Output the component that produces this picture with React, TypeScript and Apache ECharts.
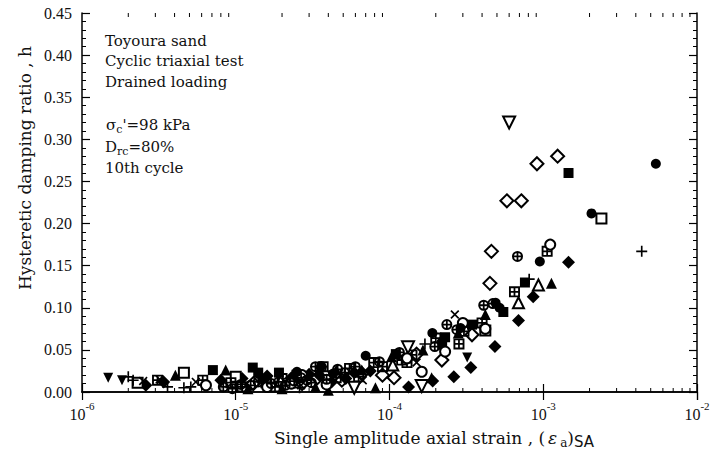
import React, { useEffect, useRef } from "react";
import * as echarts from "echarts";

// ---- data: [single amplitude axial strain, hysteretic damping ratio h] ----
const filledCircle = [
  [5.4e-3, 0.271], [2.06e-3, 0.212], [9.5e-4, 0.155], [5.2e-4, 0.1], [4.9e-4, 0.106],
  [2.9e-4, 0.076], [2.2e-4, 0.06], [1.9e-4, 0.07], [7.0e-5, 0.043], [3.6e-5, 0.031],
  [4.3e-5, 0.022], [2.5e-5, 0.024], [1.5e-5, 0.016],
];
const openCircle = [
  [1.11e-3, 0.175], [4.2e-4, 0.075], [3.0e-4, 0.082], [2.3e-4, 0.048], [1.62e-4, 0.024],
  [1.3e-4, 0.04], [3.9e-5, 0.009], [2.7e-5, 0.02], [2.3e-5, 0.01], [1.6e-5, 0.006],
  [6.4e-6, 0.008],
];
const crossCircle = [
  [6.8e-4, 0.161], [4.7e-4, 0.105], [4.1e-4, 0.103], [2.74e-4, 0.074], [2.36e-4, 0.08],
  [1.97e-4, 0.054], [1.16e-4, 0.047], [8.6e-5, 0.036], [6.0e-5, 0.03], [5.1e-5, 0.023],
  [4.6e-5, 0.027], [3.9e-5, 0.015], [3.6e-5, 0.029], [3.3e-5, 0.03], [3.1e-5, 0.011],
  [2.9e-5, 0.014], [2.66e-5, 0.017], [2.4e-5, 0.013], [2.1e-5, 0.008], [1.9e-5, 0.012],
  [1.7e-5, 0.01], [1.4e-5, 0.012], [1.25e-5, 0.008], [1.08e-5, 0.009], [9.5e-6, 0.004],
  [8.3e-6, 0.006],
];
const dotSquare = [
  [1.06e-3, 0.167], [6.5e-4, 0.119], [4.0e-4, 0.082], [3.05e-4, 0.072], [2.83e-4, 0.057],
  [2.0e-4, 0.064], [1.4e-4, 0.044], [1.3e-4, 0.035], [1.2e-4, 0.038], [9.0e-5, 0.03],
  [7.9e-5, 0.035], [6.3e-5, 0.018], [5.5e-5, 0.028], [4.5e-5, 0.017], [3.7e-5, 0.03],
  [2.5e-5, 0.02], [2.0e-5, 0.016], [1.8e-5, 0.006], [1.57e-5, 0.011], [1.1e-5, 0.006],
  [9.3e-6, 0.011], [6.1e-6, 0.014], [3.1e-6, 0.014],
];
const filledSquare = [
  [1.46e-3, 0.26], [7.6e-4, 0.13], [5.5e-4, 0.095], [3.44e-4, 0.08], [2.3e-4, 0.065],
  [2.2e-4, 0.056], [1.1e-4, 0.045], [1.91e-5, 0.023], [1.4e-5, 0.023], [1.29e-5, 0.029],
  [7.1e-6, 0.026],
];
const openSquare = [
  [2.39e-3, 0.206], [4.2e-4, 0.073], [1.0e-5, 0.018], [4.6e-6, 0.023], [2.3e-6, 0.011],
];
const filledTriangle = [
  [1.13e-3, 0.129], [4.2e-4, 0.092], [2.8e-4, 0.07], [1.88e-4, 0.017], [1.65e-4, 0.05],
  [1.03e-4, 0.042], [8.1e-5, 0.005], [6.6e-5, 0.026], [4.5e-5, 0.026], [4.0e-5, 0.002],
  [3.3e-5, 0.006], [2.0e-5, 0.004], [1.2e-5, 0.004], [8.6e-6, 0.026], [4.05e-6, 0.02],
];
const openTriangle = [
  [9.3e-4, 0.127], [6.9e-4, 0.106], [1.05e-4, 0.032], [1.97e-5, 0.014],
];
const filledInvTriangle = [
  [3.2e-4, 0.041], [4.2e-5, 0.02], [1.82e-6, 0.014], [1.48e-6, 0.017],
];
const openInvTriangle = [
  [6.0e-4, 0.32], [1.62e-4, 0.007], [1.32e-4, 0.053], [5.9e-5, 0.005],
];
const filledDiamond = [
  [1.46e-3, 0.154], [8.6e-4, 0.113], [6.9e-4, 0.085], [4.85e-4, 0.054], [3.38e-4, 0.029],
  [2.62e-4, 0.018], [1.91e-4, 0.013], [1.33e-4, 0.006], [7.5e-5, 0.025], [5.9e-5, 0.023],
  [5.2e-5, 0.016], [4.2e-5, 0.012], [3.5e-5, 0.02], [3.0e-5, 0.021], [2.3e-5, 0.017],
  [1.6e-5, 0.019], [1.1e-5, 0.016], [8.0e-6, 0.014], [3.4e-6, 0.012], [2.6e-6, 0.008],
];
const openDiamond = [
  [1.24e-3, 0.28], [9.1e-4, 0.271], [7.2e-4, 0.227], [5.8e-4, 0.227], [4.6e-4, 0.167],
  [4.5e-4, 0.129], [3.44e-4, 0.068], [2.19e-4, 0.038], [1.5e-4, 0.045], [1.07e-4, 0.017],
  [9.0e-5, 0.02], [6.6e-5, 0.022], [4.9e-5, 0.014], [3.4e-5, 0.017], [2.7e-5, 0.01],
  [1.3e-5, 0.01],
];
const plusMark = [
  [4.37e-3, 0.167], [8.1e-4, 0.134], [1.7e-4, 0.057], [2.6e-5, 0.005], [5.1e-6, 0.006],
  [4.6e-6, 0.005], [3.6e-6, 0.006], [2.15e-6, 0.014], [2.0e-6, 0.018],
];
const crossMark = [
  [2.66e-4, 0.092], [1.5e-4, 0.035], [6.7e-5, 0.014], [2.66e-5, 0.008], [5.5e-6, 0.012],
  [3.2e-6, 0.015], [2.5e-6, 0.013],
];

// ---- axes ----
const xMin = 1e-6;
const xMax = 1e-2;
const yMin = 0;
const yMax = 0.45;
const yStep = 0.05;
const xMinorTicks = [
  2e-6, 3e-6, 4e-6, 5e-6, 6e-6, 7e-6, 8e-6, 9e-6,
  2e-5, 3e-5, 4e-5, 5e-5, 6e-5, 7e-5, 8e-5, 9e-5,
  2e-4, 3e-4, 4e-4, 5e-4, 6e-4, 7e-4, 8e-4, 9e-4,
  2e-3, 3e-3, 4e-3, 5e-3, 6e-3, 7e-3, 8e-3, 9e-3,
];

const annotationLines = [
  "Toyoura sand",
  "Cyclic triaxial test",
  "Drained loading",
];

const INK = "#111";
const SERIF = "'Liberation Serif', serif";
const WSERIF = "'DejaVu Serif', serif";

const crossCirclePath =
  "path://M10,0 A10,10 0 1,1 10,20 A10,10 0 1,1 10,0 Z M10,3.6 A6.4,6.4 0 1,0 10,16.4 A6.4,6.4 0 1,0 10,3.6 Z M8.4,3 H11.6 V17 H8.4 Z M3,8.4 H17 V11.6 H3 Z";
const dotSquarePath =
  "path://M0,0 H20 V20 H0 Z M3.4,3.4 V16.6 H16.6 V3.4 Z M8.4,3 H11.6 V17 H8.4 Z M3,8.4 H17 V11.6 H3 Z";
const plusPath = "path://M8.5,0 H11.5 V8.5 H20 V11.5 H11.5 V20 H8.5 V11.5 H0 V8.5 H8.5 Z";

function sc(name: string, data: number[][], symbol: string, size: number, rotate = 0, z = 2) {
  return {
    name,
    type: "scatter",
    data,
    symbol,
    symbolSize: size,
    symbolRotate: rotate,
    z,
    itemStyle: { color: "#000", borderColor: "#000", borderWidth: symbol.startsWith("empty") ? 2 : 0, opacity: 1 },
    emphasis: { disabled: true },
  };
}

export default function App() {
  const ref = useRef<HTMLDivElement>(null);
  useEffect(() => {
    if (!ref.current) return;
    const chart = echarts.init(ref.current, null, { renderer: "svg" });
    const sup = (v: number) => {
      const e = Math.round(Math.log10(v));
      return `{b|10}{s|${e}}`;
    };
    const xLabelRich = {
      b: { fontFamily: SERIF, fontSize: 16, color: INK, lineHeight: 22, verticalAlign: "bottom" },
      s: { fontFamily: SERIF, fontSize: 11, color: INK, lineHeight: 22, verticalAlign: "top" },
    };
    const option: any = {
      animation: false,
      backgroundColor: "#fff",
      grid: { left: 82, right: 28, top: 13, bottom: 65, containLabel: false },
      xAxis: [
        {
          type: "log",
          logBase: 10,
          min: xMin,
          max: xMax,
          position: "bottom",
          axisLine: { show: true, lineStyle: { color: "#000", width: 1.5 } },
          axisTick: { show: true, inside: true, length: 8, lineStyle: { color: "#000", width: 1.2 } },
          axisLabel: { show: true, margin: 8, formatter: sup, rich: xLabelRich },
          splitLine: { show: false },
          minorTick: { show: false },
        },
        {
          type: "log",
          logBase: 10,
          min: xMin,
          max: xMax,
          position: "top",
          axisLine: { show: true, lineStyle: { color: "#000", width: 1.5 } },
          axisTick: { show: true, inside: true, length: 8, lineStyle: { color: "#000", width: 1.2 } },
          axisLabel: { show: false },
          splitLine: { show: false },
        },
      ],
      yAxis: [
        {
          type: "value",
          min: yMin,
          max: yMax,
          interval: yStep,
          position: "left",
          axisLine: { show: true, lineStyle: { color: "#000", width: 1.5 } },
          axisTick: { show: true, inside: true, length: 8, lineStyle: { color: "#000", width: 1.2 } },
          minorTick: { show: true, splitNumber: 5, length: 4, lineStyle: { color: "#000", width: 1 } },
          axisLabel: {
            margin: 10,
            color: INK,
            fontFamily: SERIF,
            fontSize: 16,
            formatter: (v: number) => v.toFixed(2),
          },
          splitLine: { show: false },
        },
        {
          type: "value",
          min: yMin,
          max: yMax,
          interval: yStep,
          position: "right",
          axisLine: { show: true, lineStyle: { color: "#000", width: 1.5 } },
          axisTick: { show: true, inside: true, length: 8, lineStyle: { color: "#000", width: 1.2 } },
          minorTick: { show: true, splitNumber: 5, length: 4, lineStyle: { color: "#000", width: 1 } },
          axisLabel: { show: false },
          splitLine: { show: false },
        },
      ],
      series: [
        {
          type: "custom",
          name: "minorTicks",
          silent: true,
          clip: false,
          data: xMinorTicks.map((v) => [v, 0]),
          renderItem: (params: any, api: any) => {
            const p = api.coord([api.value(0), 0]);
            const cs = params.coordSys;
            const st = { stroke: "#000", lineWidth: 1 };
            return {
              type: "group",
              children: [
                { type: "line", shape: { x1: p[0], y1: cs.y + cs.height, x2: p[0], y2: cs.y + cs.height - 4 }, style: st },
                { type: "line", shape: { x1: p[0], y1: cs.y, x2: p[0], y2: cs.y + 4 }, style: st },
              ],
            };
          },
        },
        sc("openDiamond", openDiamond, "emptyDiamond", 13),
        sc("filledDiamond", filledDiamond, "diamond", 13),
        sc("openSquare", openSquare, "emptyRect", 10),
        sc("filledSquare", filledSquare, "rect", 10),
        sc("dotSquare", dotSquare, dotSquarePath, 11),
        sc("openTriangle", openTriangle, "emptyTriangle", 11),
        sc("filledTriangle", filledTriangle, "triangle", 11),
        sc("openInvTriangle", openInvTriangle, "emptyTriangle", 12, 180),
        sc("filledInvTriangle", filledInvTriangle, "triangle", 10, 180),
        sc("openCircle", openCircle, "emptyCircle", 10),
        sc("crossCircle", crossCircle, crossCirclePath, 11),
        sc("filledCircle", filledCircle, "circle", 10),
        sc("plus", plusMark, plusPath, 11),
        sc("cross", crossMark, plusPath, 11, 45),
      ],
      graphic: [
        ...annotationLines.map((t, i) => ({
          type: "text",
          left: 105,
          top: 33 + i * 20.5,
          style: { text: t, fill: INK, font: `15px ${WSERIF}` },
        })),
        {
          type: "text",
          left: 106,
          top: 117,
          style: {
            text: "{n|σ}{sub|c}{n|'=98 kPa}",
            rich: {
              n: { fontFamily: WSERIF, fontSize: 15, fill: INK, lineHeight: 20, verticalAlign: "middle" },
              sub: { fontFamily: WSERIF, fontSize: 11, fill: INK, lineHeight: 20, verticalAlign: "bottom" },
            },
          },
        },
        {
          type: "text",
          left: 105,
          top: 139,
          style: {
            text: "{n|D}{sub|rc}{n|=80%}",
            rich: {
              n: { fontFamily: WSERIF, fontSize: 15, fill: INK, lineHeight: 20, verticalAlign: "middle" },
              sub: { fontFamily: WSERIF, fontSize: 11, fill: INK, lineHeight: 20, verticalAlign: "bottom" },
            },
          },
        },
        {
          type: "text",
          left: 105,
          top: 160,
          style: { text: "10th cycle", fill: INK, font: `15px ${WSERIF}` },
        },
        {
          type: "text",
          x: 434,
          y: 438,
          style: {
            text: "{n|Single amplitude axial strain , (}{e|ε}{sub|a}{n|)}{sa|SA}",
            align: "center",
            verticalAlign: "middle",
            rich: {
              n: { fontFamily: WSERIF, fontSize: 17, fill: INK, lineHeight: 22, verticalAlign: "middle" },
              e: { fontFamily: WSERIF, fontSize: 17, fill: INK, fontStyle: "italic", lineHeight: 22, verticalAlign: "middle", padding: [0, 3, 0, 3] },
              sub: { fontFamily: WSERIF, fontSize: 12, fill: INK, lineHeight: 22, verticalAlign: "bottom" },
              sa: { fontFamily: "'DejaVu Sans', sans-serif", fontSize: 15, fill: INK, lineHeight: 22, verticalAlign: "bottom" },
            },
          },
        },
        {
          type: "text",
          x: 25,
          y: 168,
          rotation: Math.PI / 2,
          style: {
            text: "Hysteretic damping ratio , h",
            fill: INK,
            font: `17px ${WSERIF}`,
            align: "center",
            verticalAlign: "middle",
          },
        },
      ],
    };
    chart.setOption(option);
    return () => chart.dispose();
  }, []);
  return (
    <div
      ref={ref}
      style={{ position: "absolute", left: 0, top: 0, width: 725, height: 457, background: "#fff" }}
    />
  );
}
